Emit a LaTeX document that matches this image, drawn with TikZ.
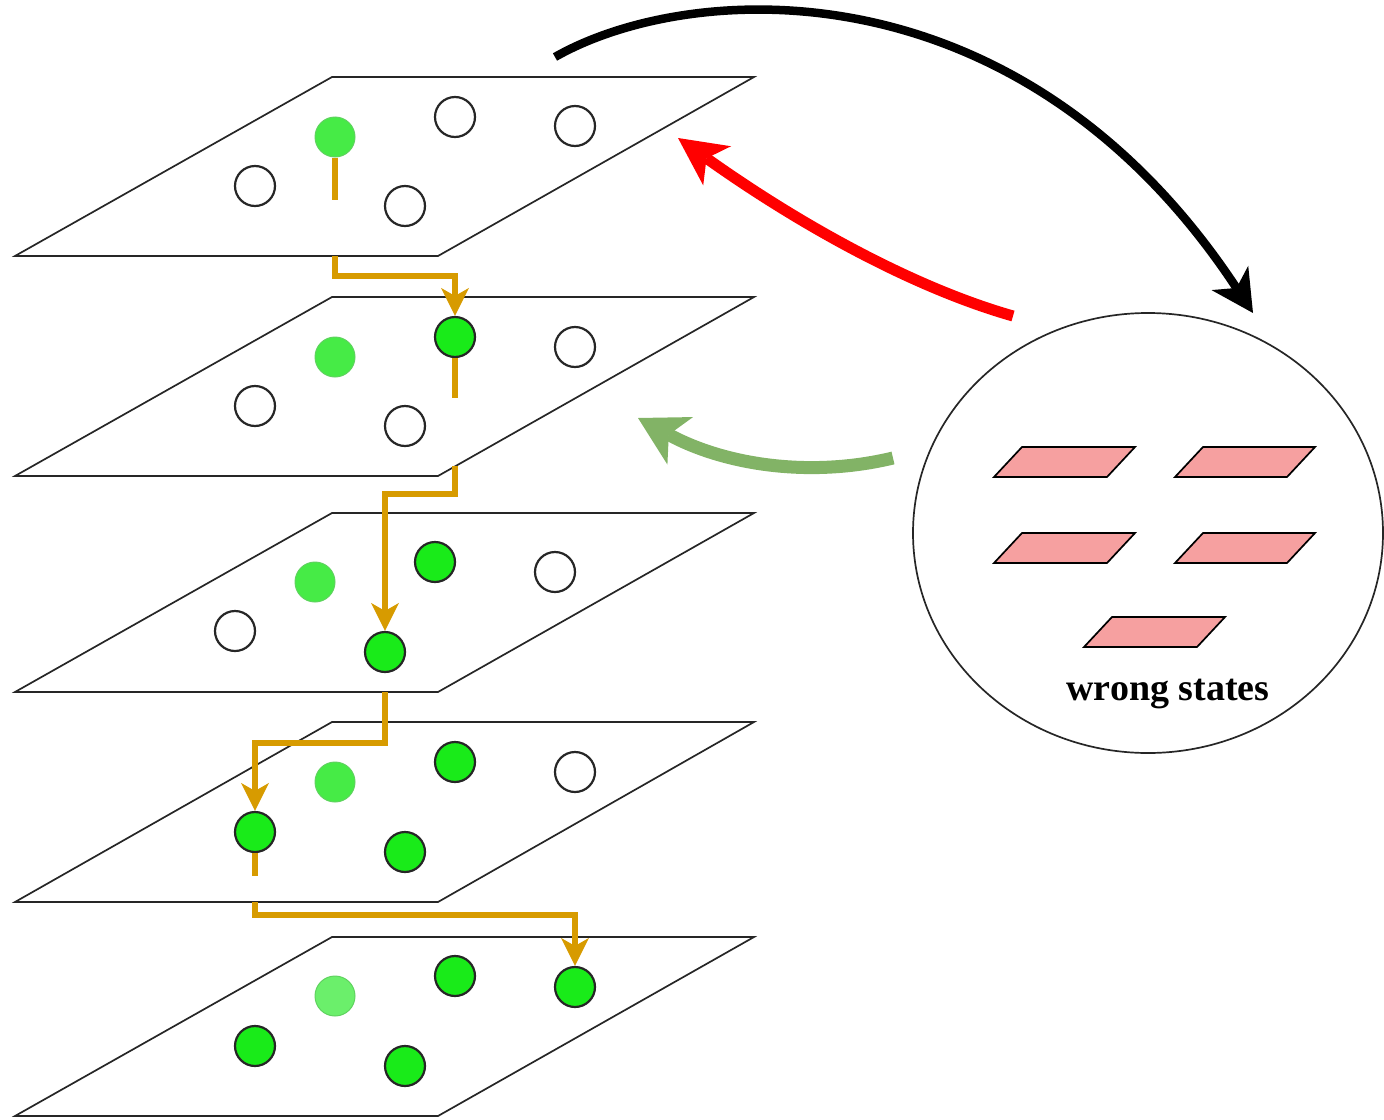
\documentclass[tikz,border=0pt]{standalone}
\usepackage{fontspec}
\setmainfont{Liberation Serif}
\usetikzlibrary{arrows.meta,shapes.geometric}
\definecolor{hopc}{RGB}{215,155,0}
\definecolor{donec}{RGB}{25,235,25}
\definecolor{seenc}{RGB}{70,235,70}
\definecolor{seenb}{RGB}{95,210,95}
\definecolor{wrongc}{RGB}{246,160,160}
\definecolor{fixc}{RGB}{130,179,102}

\begin{document}
\begin{tikzpicture}
[x=1pt,y=-1pt
,plane/.style={draw=black!85,line width=1.7pt}
,emptyst/.style={circle,draw=black!85,line width=2.2pt,fill=white,minimum size=40pt,inner sep=0pt}
,seenst/.style={emptyst,draw=seenb,line width=1pt,fill=seenc}
,donest/.style={emptyst,fill=donec}
,stem/.style={draw=hopc,line width=5.5pt}
,hop/.style={stem,arrows={-Stealth[length=28pt,width=28pt,inset=8pt,line width=0pt]}}
,wrong/.style={draw=black,line width=1.7pt,fill=wrongc}
,back/.style={line width=11pt,draw=red,arrows={-Stealth[length=48pt,width=48pt,inset=13pt,line width=0pt]}}
]
\useasboundingbox (0,0) rectangle (1384,1119);

% layers
\draw[plane] (332,77) -- (754,77) -- (438,256) -- (15,256) -- cycle;
\draw[plane] (332,297) -- (754,297) -- (438,476) -- (15,476) -- cycle;
\draw[plane] (332,513) -- (754,513) -- (438,692) -- (15,692) -- cycle;
\draw[plane] (332,722) -- (754,722) -- (438,902) -- (15,902) -- cycle;
\draw[plane] (332,937) -- (754,937) -- (438,1116) -- (15,1116) -- cycle;

% states, layer 1
\node[seenst] (s11) at (335,137) {};
\node[emptyst] (s12) at (455,117) {};
\node[emptyst] (s13) at (575,126) {};
\node[emptyst] (s14) at (255,186) {};
\node[emptyst] (s15) at (405,206) {};
% layer 2
\node[seenst] (s21) at (335,357) {};
\node[donest] (s22) at (455,337) {};
\node[emptyst] (s23) at (575,347) {};
\node[emptyst] (s24) at (255,406) {};
\node[emptyst] (s25) at (405,426) {};
% layer 3
\node[seenst] (s31) at (315,582) {};
\node[donest] (s32) at (435,562) {};
\node[emptyst] (s33) at (555,572) {};
\node[emptyst] (s34) at (235,631) {};
\node[donest] (s35) at (385,652) {};
% layer 4
\node[seenst] (s41) at (335,782) {};
\node[donest] (s42) at (455,762) {};
\node[emptyst] (s43) at (575,772) {};
\node[donest] (s44) at (255,832) {};
\node[donest] (s45) at (405,852) {};
% layer 5
\node[seenst,fill=seenc!80!white] (s51) at (335,996) {};
\node[donest] (s52) at (455,976) {};
\node[donest] (s53) at (575,987) {};
\node[donest] (s54) at (255,1046) {};
\node[donest] (s55) at (405,1066) {};

% path through the layers
\coordinate (t1) at (335,200);
\coordinate (t2) at (455,398);
\coordinate (t4) at (255,876);
\coordinate (o1) at (335,256);
\coordinate (o2) at (455,466);
\coordinate (o3) at (385,692);
\coordinate (o4) at (255,902);
\draw[stem] (s11.south) -- (t1);
\draw[stem] (s22.south) -- (t2);
\draw[stem] (s44.south) -- (t4);
\draw[hop] (o1) -- (335,276) -| (s22.north);
\draw[hop] (o2) -- (455,494) -| (s35.north);
\draw[hop] (o3) -- (385,743) -| (s44.north);
\draw[hop] (o4) -- (255,915) -| (s53.north);

% pool of wrong states
\node[ellipse,draw=black!85,line width=1.7pt,minimum width=470pt,minimum height=440pt,inner sep=0pt] (pool) at (1148,533) {};
\draw[wrong] (994,477) -- (1107,477) -- (1135,447) -- (1022,447) -- cycle;
\draw[wrong] (1175,477) -- (1287,477) -- (1315,447) -- (1203,447) -- cycle;
\draw[wrong] (994,563) -- (1107,563) -- (1135,533) -- (1022,533) -- cycle;
\draw[wrong] (1175,563) -- (1287,563) -- (1315,533) -- (1203,533) -- cycle;
\draw[wrong] (1084,647) -- (1197,647) -- (1225,617) -- (1112,617) -- cycle;
\node[anchor=base,font=\fontsize{38}{40}\selectfont\bfseries] (lbl) at (1168,700) {wrong states};

% arrows
\coordinate (b0) at (555,57);
\coordinate (b1) at (1253,313);
\coordinate (r0) at (1013,316);
\coordinate (r1) at (678,138);
\coordinate (g0) at (893,458);
\coordinate (g1) at (638,418);
\draw[line width=8.5pt,arrows={-Stealth[length=42pt,width=44pt,inset=12pt,line width=0pt]}] (b0) .. controls (690,-20) and (1020,-40) .. (b1);
\draw[back] (r0) .. controls (918,289) and (806,229) .. (r1);
\draw[back,draw=fixc,line width=13pt,arrows={-Stealth[length=48pt,width=54pt,inset=13pt,line width=0pt]}] (g0) .. controls (810,478) and (725,465) .. (g1);
\end{tikzpicture}
\end{document}
